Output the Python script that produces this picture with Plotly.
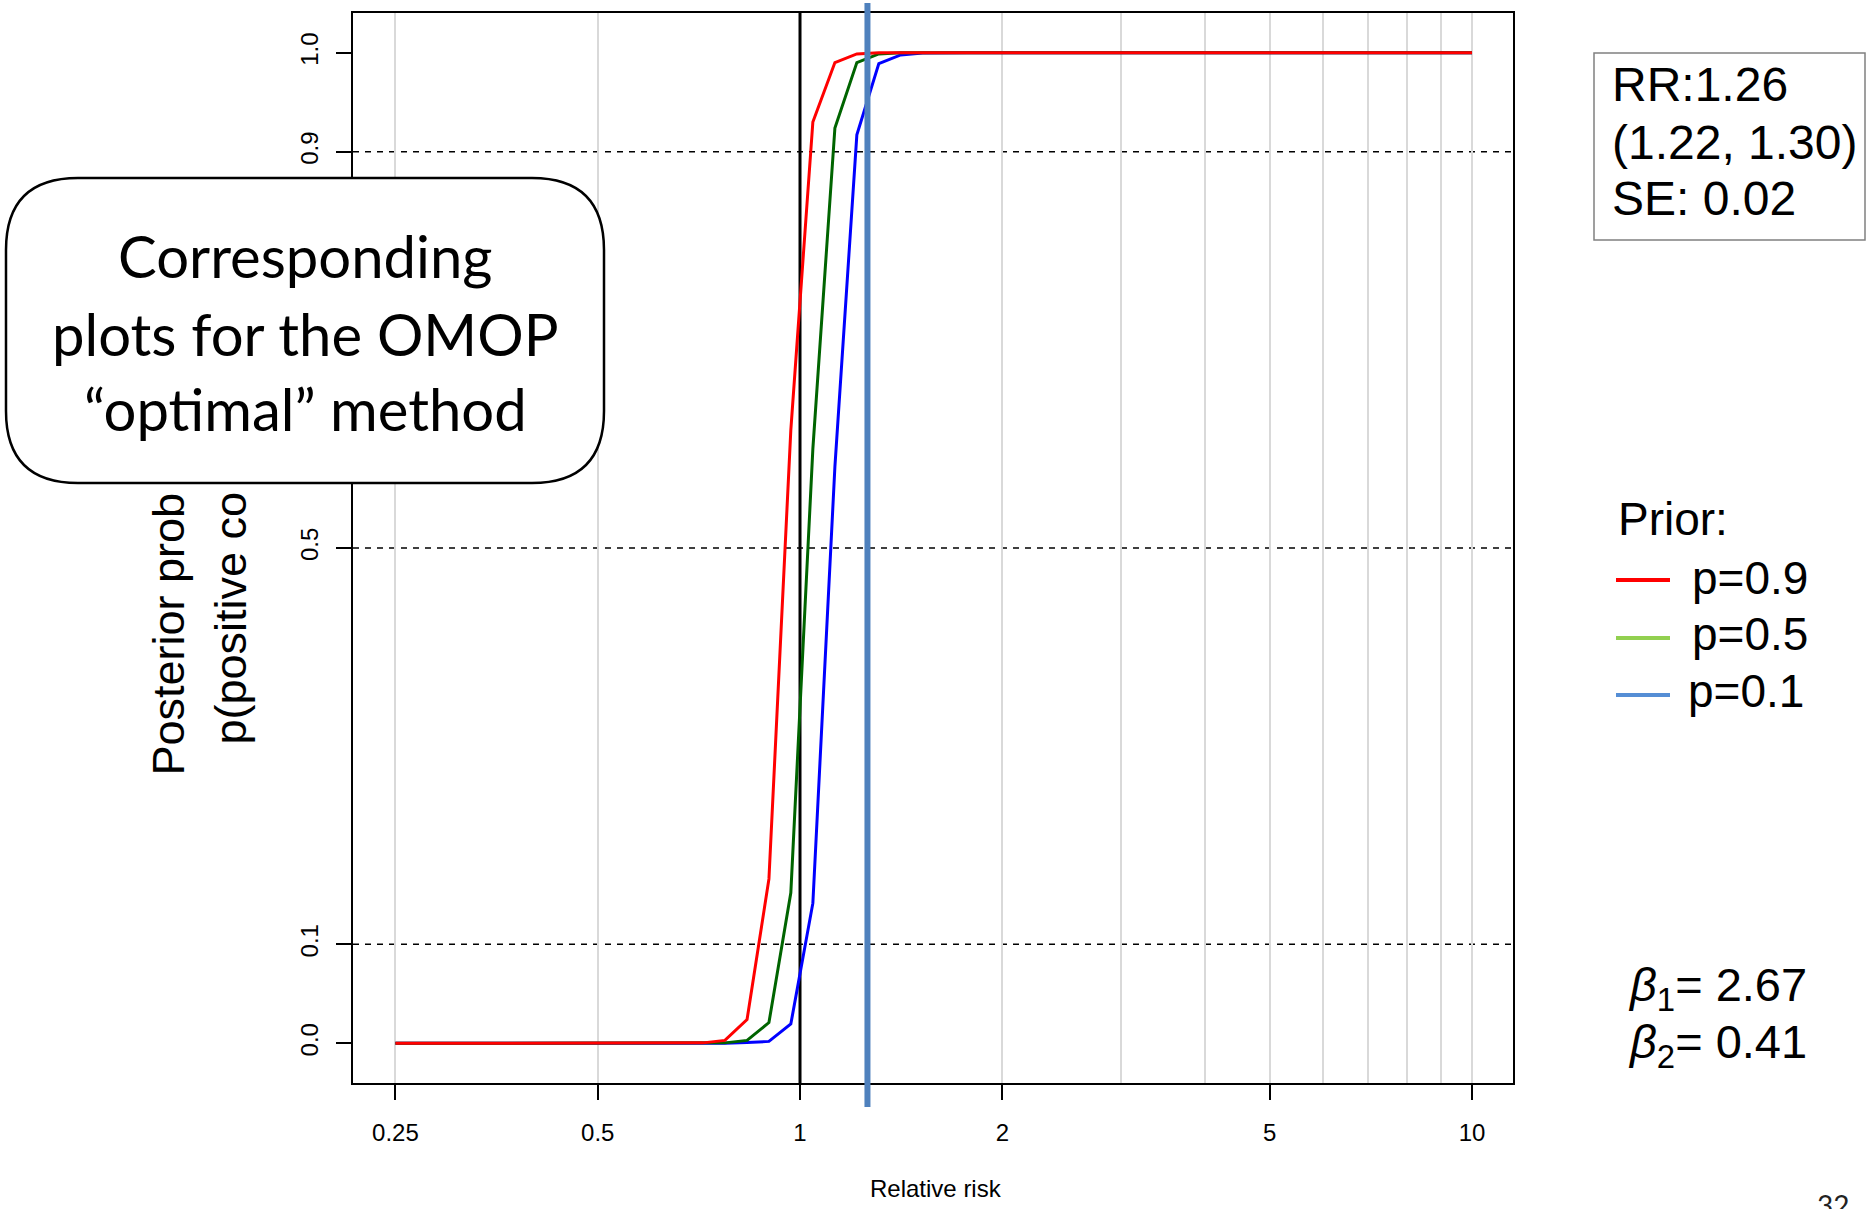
import plotly.graph_objects as go

# ---------------- data ----------------
relative_risk = [0.25, 0.270, 0.291, 0.313, 0.338, 0.364, 0.393, 0.423, 0.457, 0.492,
                 0.531, 0.572, 0.617, 0.665, 0.717, 0.773, 0.834, 0.899, 0.969, 1.045,
                 1.127, 1.215, 1.310, 1.412, 1.523, 1.642, 1.770, 1.908, 2.058, 2.219,
                 2.392, 2.579, 2.781, 2.998, 3.232, 3.485, 3.758, 4.051, 4.368, 4.710,
                 5.078, 5.475, 5.903, 6.365, 6.862, 7.399, 7.977, 8.601, 9.273, 10.0]

post_p09 = [0]*14 + [0.0005, 0.003, 0.024, 0.166, 0.619, 0.930, 0.990, 0.9987, 0.9998] + [1]*27
post_p05 = [0]*15 + [0.0005, 0.003, 0.021, 0.152, 0.600, 0.924, 0.990, 0.9987, 0.9998] + [1]*26
post_p01 = [0]*16 + [0.0008, 0.002, 0.0195, 0.1415, 0.582, 0.917, 0.989, 0.9977, 0.9995] + [1]*25

series_names = ["p=0.9", "p=0.5", "p=0.1"]
curve_colors = ["#ff0000", "#006400", "#0000ff"]
legend_colors = ["#ff0000", "#92d050", "#558ed5"]

x_tickvals = [0.25, 0.5, 1, 2, 5, 10]
x_ticktext = ["0.25", "0.5", "1", "2", "5", "10"]
x_minor_grid = [3, 4, 6, 7, 8, 9]
y_tickvals = [0.0, 0.1, 0.5, 0.9, 1.0]
y_ticktext = ["0.0", "0.1", "0.5", "0.9", "1.0"]
y_range = [-0.04, 1.04]
ref_lines_y = [0.1, 0.5, 0.9]
null_rr = 1
rr_estimate = 1.26

W, H = 1870, 1209
L, R, T, B = 353, 1513, 13, 1083


def PX(p):
    return (p - L) / (R - L)


def PY(p):
    return (B - p) / (B - T)


ARIAL = "Liberation Sans, Arial, sans-serif"
CALIBRI = "Lato, Calibri, sans-serif"

fig = go.Figure()
# null line at RR=1 (as a trace so that it sits above the grid, below the curves)
fig.add_trace(go.Scatter(x=[null_rr, null_rr], y=y_range, mode="lines",
                         line=dict(color="black", width=3), showlegend=False,
                         hoverinfo="skip", cliponaxis=True))

series = list(zip([post_p09, post_p05, post_p01], series_names, curve_colors))
# draw p=0.1 first so that p=0.9 ends up on top, as in the original
for ys, name, col in reversed(series):
    fig.add_trace(go.Scatter(x=relative_risk, y=ys, mode="lines", name=name,
                             line=dict(color=col, width=3), showlegend=False,
                             hoverinfo="skip"))

shapes = []
# dashed reference lines
for yv in ref_lines_y:
    shapes.append(dict(type="line", xref="paper", yref="y", x0=0, x1=1, y0=yv, y1=yv,
                       line=dict(color="black", width=1.5, dash="6px,6px"), layer="between"))
# estimate line
shapes.append(dict(type="line", xref="x", yref="paper", x0=rr_estimate, x1=rr_estimate,
                   y0=PY(3), y1=PY(1107), line=dict(color="#4f81bd", width=6), layer="above"))

# callout rounded box
bl, br, bt, bb, rad = 6, 604, 178, 483, 72
def pt(x, y):
    return f"{PX(x):.5f},{PY(y):.5f}"
path = (f"M {pt(bl+rad, bt)} L {pt(br-rad, bt)} Q {pt(br, bt)} {pt(br, bt+rad)} "
        f"L {pt(br, bb-rad)} Q {pt(br, bb)} {pt(br-rad, bb)} L {pt(bl+rad, bb)} "
        f"Q {pt(bl, bb)} {pt(bl, bb-rad)} L {pt(bl, bt+rad)} Q {pt(bl, bt)} {pt(bl+rad, bt)} Z")
shapes.append(dict(type="path", xref="paper", yref="paper", path=path,
                   fillcolor="white", line=dict(color="black", width=2.5), layer="above"))

# RR box
shapes.append(dict(type="rect", xref="paper", yref="paper", x0=PX(1594), x1=PX(1865),
                   y0=PY(53), y1=PY(240), line=dict(color="#808080", width=1.5),
                   fillcolor="rgba(0,0,0,0)", layer="above"))

# legend line samples
for yy, col in zip([580, 638, 695], legend_colors):
    shapes.append(dict(type="line", xref="paper", yref="paper", x0=PX(1616), x1=PX(1670),
                       y0=PY(yy), y1=PY(yy), line=dict(color=col, width=4)))

annotations = []


def ann(text, x, y, size, font=ARIAL, xanchor="left", yanchor="middle", angle=0, color="black"):
    annotations.append(dict(text=text, x=PX(x), y=PY(y), xref="paper", yref="paper",
                            showarrow=False, xanchor=xanchor, yanchor=yanchor,
                            textangle=angle, font=dict(family=font, size=size, color=color)))


# y-axis title (partially hidden behind the callout)
ann("Posterior prob", 168, 777, 45, xanchor="center", yanchor="bottom", angle=-90)
ann("p(positive co", 230, 747, 45, xanchor="center", yanchor="bottom", angle=-90)

# x-axis title
ann("Relative risk", 936, 1188, 24, xanchor="center")

# callout text
ann("Corresponding", 305, 256, 58, font=CALIBRI, xanchor="center")
ann("plots for the OMOP", 305, 333, 58, font=CALIBRI, xanchor="center")
ann("\u201coptimal\u201d method", 305, 408, 58, font=CALIBRI, xanchor="center")

# RR box text
ann("RR:1.26", 1610, 84, 48)
ann("(1.22, 1.30)", 1610, 142, 48)
ann("SE: 0.02", 1610, 199, 48)

# legend text
ann("Prior:", 1616, 519, 46)
ann(series_names[0], 1690, 578, 46)
ann(series_names[1], 1690, 634, 46)
ann(series_names[2], 1686, 691, 46)

# betas
ann("<i>\u03b2</i><sub>1</sub>= 2.67", 1626, 988, 47)
ann("<i>\u03b2</i><sub>2</sub>= 0.41", 1626, 1045, 47)

# page number (partly below the page edge, as in the original slide)
ann("32", 1833, 1186, 28, font=CALIBRI, xanchor="center", yanchor="top", color="#222222")

fig.update_layout(
    width=W, height=H,
    margin=dict(l=L, r=W - R, t=T, b=H - B, pad=0),
    paper_bgcolor="white", plot_bgcolor="white",
    shapes=shapes, annotations=annotations, showlegend=False,
    xaxis=dict(type="log", range=[-0.6652, 1.061], tickmode="array",
               tickvals=x_tickvals, ticktext=x_ticktext,
               ticks="outside", ticklen=15, tickwidth=1.5, tickcolor="black",
               tickfont=dict(family=ARIAL, size=24, color="black"), ticklabelstandoff=12,
               showline=True, linecolor="black", linewidth=2, mirror=True,
               showgrid=True, gridcolor="#d9d9d9", gridwidth=1.5, zeroline=False,
               minor=dict(tickmode="array", tickvals=x_minor_grid, showgrid=True,
                          gridcolor="#d9d9d9", gridwidth=1.5, ticks="")),
    yaxis=dict(range=y_range, tickmode="array", tickvals=y_tickvals,
               ticktext=y_ticktext, tickangle=-90,
               ticks="outside", ticklen=15, tickwidth=1.5, tickcolor="black",
               tickfont=dict(family=ARIAL, size=24, color="black"), ticklabelstandoff=8,
               showline=True, linecolor="black", linewidth=2, mirror=True,
               showgrid=False, zeroline=False),
)

fig.write_html("out.html")
